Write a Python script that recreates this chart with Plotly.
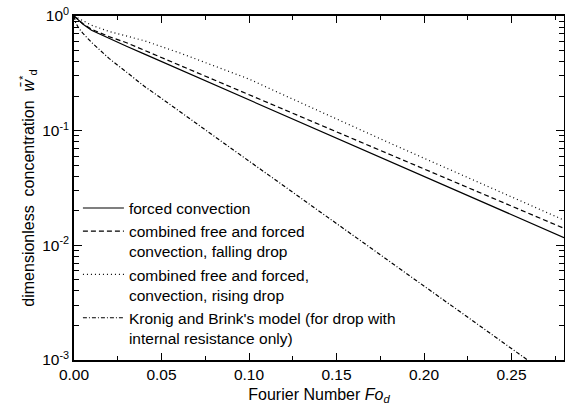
import plotly.graph_objects as go

# Fourier number samples and dimensionless concentration
fo_forced = [0, 0.005, 0.01, 0.02, 0.03, 0.04, 0.06, 0.08, 0.10, 0.12, 0.14, 0.16, 0.18, 0.20, 0.22, 0.24, 0.26, 0.28]
w_forced = [1.0, 0.851, 0.75, 0.634, 0.545, 0.467, 0.343, 0.252, 0.1855, 0.1365, 0.1003, 0.0738, 0.0543, 0.0399, 0.0293, 0.0216, 0.01587, 0.01167]

fo_falling = [0, 0.005, 0.01, 0.02, 0.03, 0.04, 0.06, 0.08, 0.10, 0.12, 0.14, 0.16, 0.18, 0.20, 0.22, 0.24, 0.26, 0.28]
w_falling = [1.0, 0.861, 0.767, 0.661, 0.585, 0.504, 0.3736, 0.2773, 0.2058, 0.1528, 0.1133, 0.0841, 0.0624, 0.0463, 0.0344, 0.0255, 0.0189, 0.01406]

fo_rising = [0, 0.01, 0.02, 0.04, 0.06, 0.08, 0.10, 0.12, 0.14, 0.16, 0.18, 0.20, 0.22, 0.24, 0.26, 0.28]
w_rising = [1.0, 0.832, 0.733, 0.610, 0.479, 0.367, 0.282, 0.204, 0.148, 0.107, 0.0785, 0.0575, 0.0422, 0.0309, 0.0226, 0.0166]

fo_kb = [0, 0.001, 0.0025, 0.005, 0.01, 0.02, 0.03, 0.04, 0.05, 0.06, 0.08, 0.10, 0.12, 0.14, 0.16, 0.18, 0.20, 0.22, 0.24, 0.26]
w_kb = [1.0, 0.871, 0.794, 0.708, 0.589, 0.427, 0.324, 0.245, 0.191, 0.148, 0.0891, 0.0543, 0.0329, 0.01995, 0.01205, 0.00729, 0.00442, 0.00267, 0.00162, 0.00098]

names = [
    "forced convection",
    "combined free and forced<br>convection, falling drop",
    "combined free and forced,<br>convection, rising drop",
    "Kronig and Brink's model (for drop with<br>internal resistance only)",
]

x_ticks = [0.00, 0.05, 0.10, 0.15, 0.20, 0.25]
x_ticktext = ["0.00", "0.05", "0.10", "0.15", "0.20", "0.25"]
y_ticks = [1e-3, 1e-2, 1e-1, 1]
y_ticktext = ["10<sup>-3</sup>", "10<sup>-2</sup>", "10<sup>-1</sup>", "10<sup>0</sup>"]

FONT = "Liberation Sans, Arial, Helvetica, sans-serif"

fig = go.Figure()
series = [
    (fo_forced, w_forced, "solid"),
    (fo_falling, w_falling, "5px,3px"),
    (fo_rising, w_rising, "1px,3px"),
    (fo_kb, w_kb, "4px,2px,1px,2px"),
]
for (xs, ys, dash), nm in zip(series, names):
    fig.add_trace(go.Scatter(x=xs, y=ys, mode="lines", name=nm,
                             line=dict(color="black", width=1.2, dash=dash)))

fig.update_layout(
    width=565, height=412,
    margin=dict(l=74, r=1, t=16, b=52),
    paper_bgcolor="white", plot_bgcolor="white",
    font=dict(family=FONT, size=16, color="black"),
    showlegend=True,
    legend=dict(x=0.008, y=0.49, xanchor="left", yanchor="top",
                bgcolor="rgba(0,0,0,0)", borderwidth=0,
                font=dict(size=15.5, family=FONT, color="black"),
                valign="top", tracegroupgap=0, itemwidth=41),
)
fig.update_xaxes(
    range=[0, 0.28], tickvals=x_ticks, ticktext=x_ticktext, automargin=False,
    ticks="inside", ticklen=7, tickwidth=1, tickcolor="black",
    minor=dict(ticks="inside", ticklen=4, dtick=0.025, tick0=0, tickcolor="black", showgrid=False),
    showline=True, linecolor="black", linewidth=1.5, mirror="ticks",
    showgrid=False, zeroline=False,
    title=dict(text="Fourier Number <i>Fo</i><sub><i>d</i></sub>", standoff=6,
               font=dict(size=16, family=FONT)),
    tickfont=dict(size=15.5, family=FONT),
)
fig.update_yaxes(
    type="log", range=[-3, 0], tickvals=y_ticks, ticktext=y_ticktext, automargin=False,
    ticks="inside", ticklen=8, tickwidth=1, tickcolor="black",
    minor=dict(ticks="inside", ticklen=5, dtick="D1", tickcolor="black", showgrid=False),
    showline=True, linecolor="black", linewidth=1.5, mirror="ticks",
    showgrid=False, zeroline=False,
    title=dict(text="dimensionless  concentration  <i>w̄</i><sup>*</sup><sub>d</sub>", standoff=4,
               font=dict(size=16, family=FONT)),
    tickfont=dict(size=15.5, family=FONT),
)

fig.write_html("out.html", config={"displayModeBar": False},
               post_script="document.body.style.margin='0';document.body.style.overflow='hidden';")
